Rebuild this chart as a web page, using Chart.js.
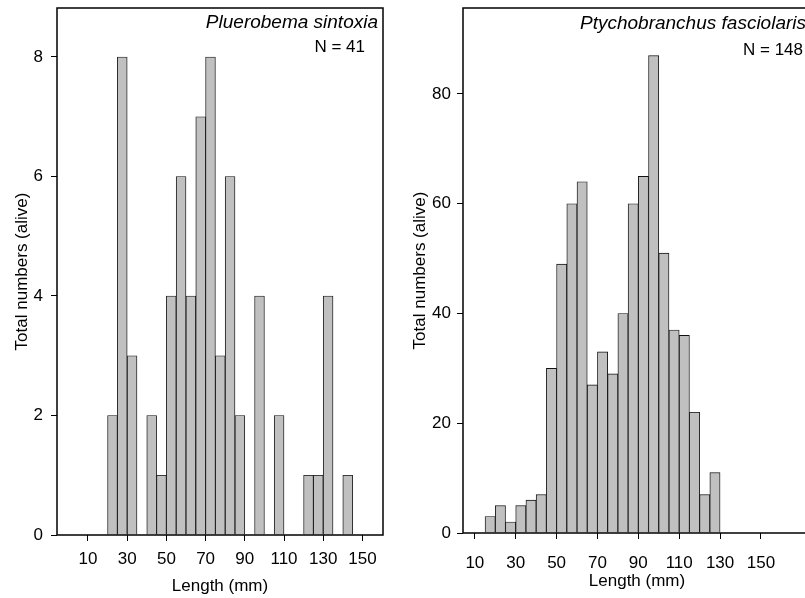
<!DOCTYPE html>
<html>
<head>
<meta charset="utf-8">
<script src="https://cdn.jsdelivr.net/npm/chart.js@4"></script>
<style>
html, body { margin: 0; padding: 0; background: #fff; overflow: hidden; }
body { width: 805px; height: 598px; position: relative; }
canvas { position: absolute; top: 0; }
#leftChart { left: 0; }
#rightChart { left: 400px; }
</style>
</head>
<body>
<canvas id="leftChart" width="400" height="598"></canvas>
<canvas id="rightChart" width="430" height="598"></canvas>
<script>
// lower edge of each 5 mm length class
const binStarts = [0, 5, 10, 15, 20, 25, 30, 35, 40, 45, 50, 55, 60, 65, 70, 75, 80, 85,
  90, 95, 100, 105, 110, 115, 120, 125, 130, 135, 140, 145, 150, 155, 160, 165, 170];
const sintoxiaCounts = [0, 0, 0, 0, 2, 8, 3, 0, 2, 1, 4, 6, 4, 7, 8, 3, 6, 2,
  0, 4, 0, 2, 0, 0, 1, 1, 4, 0, 1, 0, 0, 0, 0, 0, 0];
const fasciolarisCounts = [0, 0, 0, 3, 5, 2, 5, 6, 7, 30, 49, 60, 64, 27, 33, 29, 40, 60,
  65, 87, 51, 37, 36, 22, 7, 11, 0, 0, 0, 0, 0, 0, 0, 0, 0];
const binWidth = 5;

const xTickValues = [10, 30, 50, 70, 90, 110, 130, 150];
const sintoxiaYTicks = [0, 2, 4, 6, 8];
const fasciolarisYTicks = [0, 20, 40, 60, 80];

const speciesNames = ["Pluerobema sintoxia", "Ptychobranchus fasciolaris"];
const sampleLabels = ["N = 41", "N = 148"];

const FONT = '"Liberation Sans", Arial, sans-serif';

// frame round the plot + species name and N in the top right corner
const cornerText = {
  id: 'cornerText',
  afterDraw(chart, args, o) {
    const ctx = chart.ctx;
    const a = chart.chartArea;
    ctx.save();
    ctx.strokeStyle = '#000';
    ctx.lineWidth = 1.5;
    ctx.strokeRect(a.left, a.top, a.right - a.left, a.bottom - a.top);
    ctx.fillStyle = '#000';
    ctx.textAlign = 'right';
    ctx.textBaseline = 'alphabetic';
    ctx.font = 'italic 19px ' + FONT;
    ctx.fillText(o.name, a.right - o.nameInset, o.nameY);
    ctx.font = '17px ' + FONT;
    ctx.fillText(o.n, a.right - o.nInset, o.nY);
    ctx.restore();
  }
};

function makeHistogram(id, counts, yTicks, s) {
  const points = binStarts.map((b, i) => ({ x: b + binWidth / 2, y: counts[i] }));
  return new Chart(document.getElementById(id), {
    type: 'bar',
    data: {
      datasets: [{
        data: points,
        backgroundColor: '#c0c0c0',
        borderColor: '#111',
        borderWidth: 0.9,
        barPercentage: 1,
        categoryPercentage: 1
      }]
    },
    options: {
      responsive: false,
      animation: false,
      layout: { padding: { top: 8, right: s.padRight, left: 0, bottom: 0 } },
      plugins: {
        legend: { display: false },
        tooltip: { enabled: false },
        cornerText: s.text
      },
      scales: {
        x: {
          type: 'linear',
          offset: false,
          min: s.xMin,
          max: s.xMax,
          afterBuildTicks: sc => { sc.ticks = xTickValues.map(v => ({ value: v })); },
          afterFit: sc => { sc.height = s.xHeight; sc.paddingLeft = 0; sc.paddingRight = 0; },
          grid: { drawOnChartArea: false, offset: false, color: '#000', tickLength: 6 },
          border: { display: false },
          ticks: { color: '#000', padding: s.xTickPad, maxRotation: 0, autoSkip: false,
                   font: { size: 17, family: FONT } },
          title: { display: true, text: 'Length (mm)', color: '#000',
                   font: { size: 17, family: FONT }, padding: { top: 0, bottom: s.xTitlePad } }
        },
        y: {
          min: 0,
          max: s.yMax,
          afterBuildTicks: sc => { sc.ticks = yTicks.map(v => ({ value: v })); },
          afterFit: sc => { sc.width = s.yWidth; sc.paddingTop = 0; sc.paddingBottom = 0; },
          grid: { drawOnChartArea: false, color: '#000', tickLength: 6 },
          border: { display: false },
          ticks: { color: '#000', padding: s.yTickPad, font: { size: 17, family: FONT } },
          title: { display: true, text: 'Total numbers (alive)', color: '#000',
                   font: { size: 17, family: FONT }, padding: { top: s.yTitlePad, bottom: 0 } }
        }
      }
    },
    plugins: [cornerText]
  });
}

makeHistogram('leftChart', sintoxiaCounts, sintoxiaYTicks, {
  xMin: -5.8, xMax: 160.5, yMax: 8.82,
  padRight: 17, yWidth: 57, xHeight: 63,
  xTickPad: 8, xTitlePad: 1, yTickPad: 8, yTitlePad: 12,
  text: { name: speciesNames[0], n: sampleLabels[0], nameInset: 5, nameY: 28, nInset: 18, nY: 52 }
});

makeHistogram('rightChart', fasciolarisCounts, fasciolarisYTicks, {
  xMin: 4.2, xMax: 174.5, yMax: 95.67,
  padRight: 19, yWidth: 63, xHeight: 65,
  xTickPad: 14, xTitlePad: 6, yTickPad: 6, yTitlePad: 10,
  text: { name: speciesNames[1], n: sampleLabels[1], nameInset: 5, nameY: 29, nInset: 8, nY: 55 }
});
</script>
</body>
</html>
